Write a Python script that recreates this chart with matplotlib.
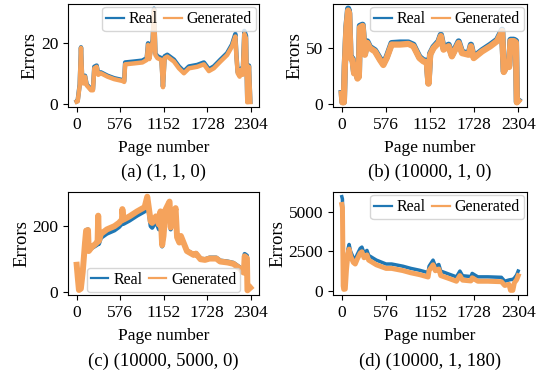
import matplotlib
matplotlib.use("Agg")
import matplotlib.pyplot as plt

plt.rcParams["font.family"] = ["Liberation Serif", "DejaVu Serif"]
plt.rcParams["font.size"] = 12.5

BLUE = "#1f77b4"
ORANGE = "#f5a35c"

XTICKS = [0, 576, 1152, 1728, 2304]

# ---- panel (a) (1, 1, 0) ----
pages_a = [0, 13, 26, 40, 57, 71, 88, 110, 132, 154, 189, 215, 233, 264, 285, 320,
           408, 496, 606, 628, 641, 760, 869, 926, 944, 961, 988, 1005, 1023, 1041,
           1067, 1120, 1141, 1163, 1198, 1286, 1352, 1418, 1484, 1594, 1682, 1748,
           1813, 1901, 1989, 2054, 2098, 2112, 2129, 2155, 2173, 2195, 2217, 2239,
           2256, 2278, 2296]
real_a = [1.0, 1.2, 3.8, 6.5, 18.5, 9.3, 7.1, 9.3, 6.5, 5.9, 4.9, 4.9, 12.2, 12.6,
          9.9, 10.4, 9.3, 8.5, 7.9, 7.6, 13.6, 13.9, 14.2, 15.0, 19.8, 15.3, 18.8,
          21.0, 31.0, 16.5, 15.6, 15.0, 5.8, 15.6, 16.1, 14.5, 12.3, 10.7, 12.3,
          12.8, 13.6, 11.4, 12.3, 14.5, 16.6, 19.4, 22.8, 16.0, 10.5, 9.4, 11.6,
          10.0, 23.8, 22.2, 0.9, 12.6, 0.9]
gen_a = [0.9, 1.0, 3.5, 6.2, 18.3, 9.0, 6.8, 9.0, 6.2, 5.6, 4.6, 4.6, 11.7, 12.2,
         9.6, 10.1, 9.0, 8.2, 7.6, 7.3, 13.0, 13.3, 13.6, 14.4, 19.3, 14.7, 18.3,
         20.4, 30.5, 16.0, 15.0, 14.4, 5.6, 15.0, 15.5, 13.9, 11.7, 10.1, 11.7,
         12.2, 13.0, 10.8, 11.7, 13.9, 16.0, 18.8, 22.0, 15.5, 10.1, 9.0, 11.2,
         9.6, 22.8, 21.4, 0.7, 12.2, 0.8]

# ---- panel (b) (10000, 1, 0) ----
pages_b = [0, 8, 26, 39, 61, 83, 96, 113, 140, 161, 183, 205, 222, 236, 271, 301,
           332, 367, 433, 498, 542, 586, 651, 761, 870, 935, 970, 1014, 1067, 1110,
           1132, 1154, 1198, 1263, 1294, 1329, 1395, 1438, 1526, 1570, 1657, 1687,
           1723, 1832, 1941, 2029, 2094, 2116, 2160, 2186, 2204, 2248, 2274, 2287,
           2304]
real_b = [9.5, 1.5, 1.5, 34.0, 69.5, 85.5, 81.5, 42.0, 40.5, 28.0, 34.0, 23.5, 25.0,
          70.0, 71.0, 45.0, 56.0, 51.0, 48.0, 40.5, 36.0, 42.0, 54.5, 55.0, 55.0,
          53.0, 48.0, 42.0, 39.0, 38.5, 18.5, 45.0, 51.0, 56.0, 62.0, 50.0, 53.0,
          43.5, 56.0, 46.5, 45.0, 53.0, 42.0, 48.0, 53.0, 57.5, 66.5, 29.0, 35.5,
          34.0, 57.5, 57.5, 56.5, 1.5, 3.0]
gen_b = [9.0, 1.2, 1.2, 33.3, 68.5, 83.8, 80.7, 41.0, 39.4, 27.2, 33.0, 22.6, 24.0,
         68.5, 70.0, 44.0, 54.7, 50.0, 47.0, 39.4, 34.8, 41.0, 53.2, 53.2, 53.8,
         51.7, 47.0, 41.0, 38.0, 37.3, 18.0, 44.0, 50.0, 54.7, 60.8, 48.6, 51.7,
         42.6, 54.7, 45.5, 44.0, 51.7, 41.0, 47.0, 51.7, 56.3, 65.4, 28.5, 34.6,
         33.0, 56.3, 56.3, 55.0, 1.2, 2.5]

# ---- panel (c) (10000, 5000, 0) ----
pages_c = [0, 15, 30, 55, 80, 110, 125, 150, 160, 200, 250, 277, 285, 295, 320, 400,
           500, 560, 600, 605, 620, 700, 800, 900, 935, 950, 980, 1000, 1050, 1090,
           1110, 1132, 1150, 1176, 1230, 1245, 1270, 1310, 1330, 1360, 1380, 1460,
           1550, 1580, 1640, 1700, 1760, 1850, 1900, 2000, 2076, 2164, 2200, 2215,
           2225, 2255, 2262, 2280, 2300]
real_c = [80, 40, 6, 10, 58, 150, 188, 190, 126, 133, 140, 144, 222, 146, 164, 177,
          187, 197, 207, 240, 207, 217, 232, 245, 274, 250, 200, 195, 215, 190, 230,
          138, 166, 240, 266, 190, 211, 250, 164, 149, 169, 126, 114, 118, 101, 99,
          104, 104, 95, 92, 88, 74, 66, 64, 115, 110, 6, 10, 14]
gen_c = [82, 42, 5, 9, 60, 148, 186, 188, 124, 136, 146, 152, 232, 155, 176, 190,
         200, 210, 220, 252, 220, 230, 245, 258, 290, 265, 215, 210, 230, 205, 245,
         142, 170, 250, 275, 196, 215, 255, 166, 150, 170, 124, 112, 116, 99, 97,
         101, 101, 92, 89, 85, 70, 60, 58, 108, 102, 4, 8, 12]

# ---- panel (d) (10000, 1, 180) ----
pages_d = [0, 8, 18, 25, 45, 60, 80, 95, 115, 150, 175, 200, 240, 262, 290, 328,
           350, 450, 577, 650, 796, 900, 1015, 1125, 1138, 1190, 1220, 1265, 1290,
           1400, 1495, 1540, 1575, 1683, 1700, 1774, 1906, 2081, 2125, 2180, 2200,
           2230, 2250, 2280, 2300]
real_d = [6000, 5850, 2400, 1500, 1300, 1700, 2650, 2950, 2500, 2100, 2000, 2300,
          2700, 2780, 2400, 2570, 2250, 1950, 1700, 1700, 1560, 1420, 1300, 1150,
          1560, 1950, 1550, 1670, 1250, 1050, 880, 1250, 950, 900, 1100, 880, 880,
          850, 600, 680, 700, 720, 800, 1000, 1250]
gen_d = [5500, 5300, 300, 80, 100, 1300, 2350, 2650, 2200, 1800, 1700, 2000, 2400,
         2480, 2100, 2280, 1950, 1650, 1420, 1420, 1280, 1140, 1020, 870, 1280, 1650,
         1270, 1380, 960, 770, 600, 960, 670, 620, 820, 600, 600, 570, 330, 400, 20,
         20, 500, 700, 950]

panels = [
    (pages_a, real_a, gen_a, [0, 20], "upper right", "(a) (1, 1, 0)"),
    (pages_b, real_b, gen_b, [0, 50], "upper right", "(b) (10000, 1, 0)"),
    (pages_c, real_c, gen_c, [0, 200], "lower center", "(c) (10000, 5000, 0)"),
    (pages_d, real_d, gen_d, [0, 2500, 5000], "upper right", "(d) (10000, 1, 180)"),
]
# line widths (real, generated) per panel, mimicking the dense noisy bands
widths = [(3.2, 3.2), (4.5, 4.5), (3.0, 4.3), (2.5, 3.6)]

W, H = 541, 375
fig = plt.figure(figsize=(W / 100, H / 100), dpi=100)

# axes boxes in pixels: left, top, right, bottom
boxes = [(68, 4, 259, 107), (333, 4, 527, 107),
         (68, 192, 259, 295), (333, 192, 527, 295)]
caption_y = [172, 172, 361, 361]

for (pages, real, gen, yt, loc, cap), (l, t, r, b), cy, (lw_r, lw_g) in zip(
        panels, boxes, caption_y, widths):
    ax = fig.add_axes([l / W, 1 - b / H, (r - l) / W, (b - t) / H])
    ax.plot(pages, real, color=BLUE, lw=lw_r, label="Real")
    ax.plot(pages, gen, color=ORANGE, lw=lw_g, label="Generated")
    ax.set_xticks(XTICKS)
    ax.set_yticks(yt)
    ax.set_xlabel("Page number", labelpad=5)
    ax.set_ylabel("Errors", fontsize=13.5, labelpad=1.5)
    leg = ax.legend(loc=loc, fontsize=11.5, handlelength=1.1, handletextpad=0.3,
                    borderpad=0.25, borderaxespad=0.2, ncol=2, columnspacing=0.4)
    for ln in leg.get_lines():
        ln.set_linewidth(1.6)
    fig.text((l + r) / 2 / W, 1 - cy / H, cap, ha="center", va="center",
             fontsize=13.5)

fig.savefig("out.png", dpi=100)
